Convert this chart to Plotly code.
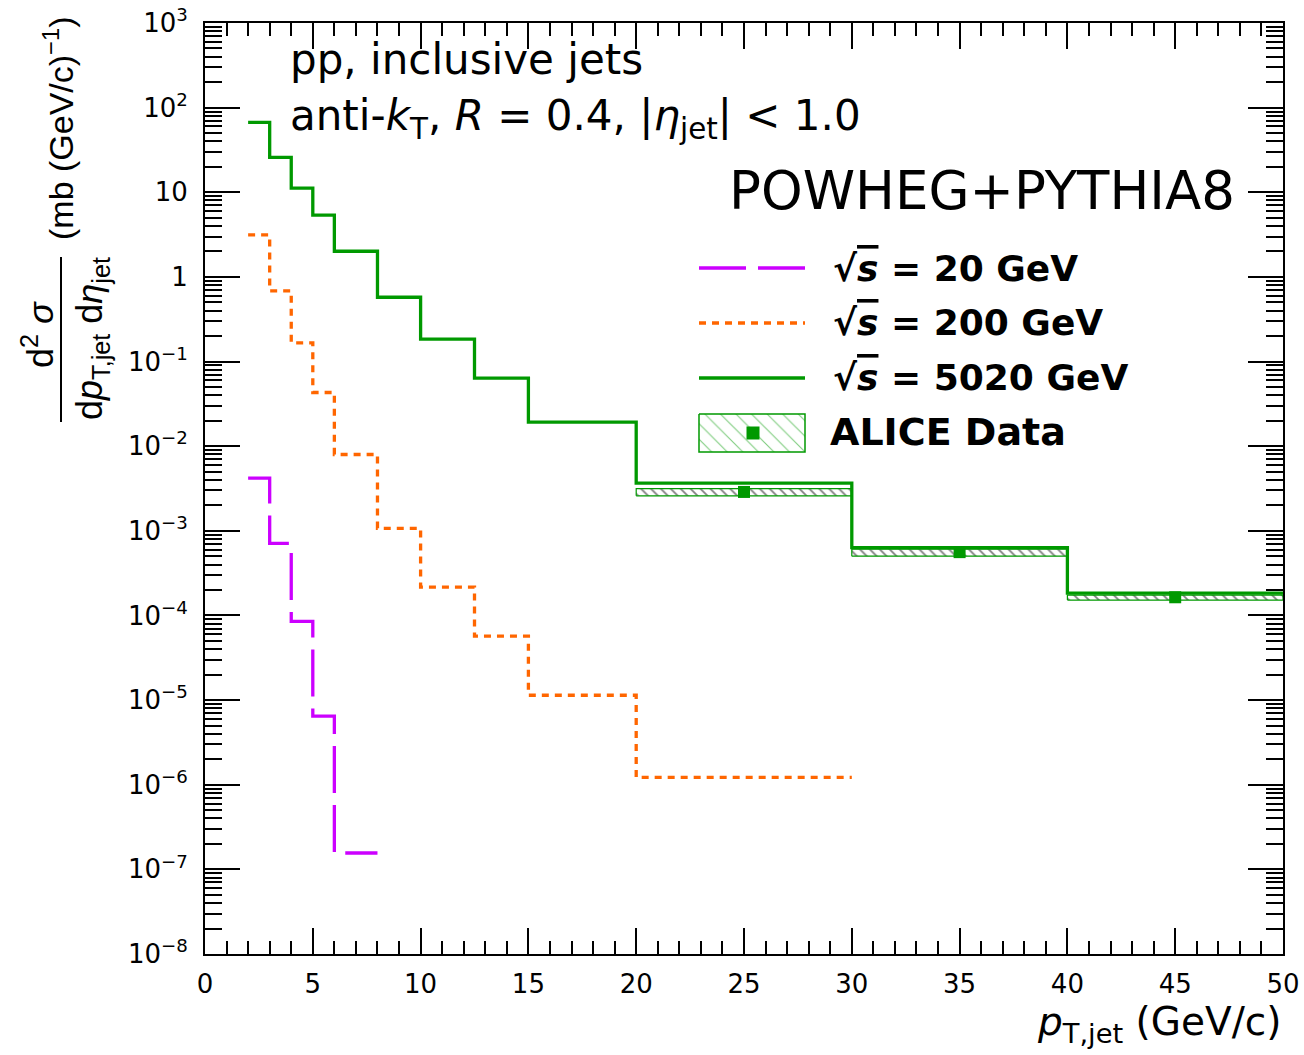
import plotly.graph_objects as go

# ---------------- data ----------------
bin_edges = [2, 3, 4, 5, 6, 8, 10, 12.5, 15, 20, 30, 40, 50]

# sqrt(s) = 5020 GeV  (POWHEG+PYTHIA8), mb (GeV/c)^-1
y_5020 = [67.1, 25.9, 11.2, 5.36, 2.01, 0.575, 0.184, 0.0636, 0.0192,
          3.66e-3, 6.33e-4, 1.84e-4]
# sqrt(s) = 200 GeV
y_200 = [3.13, 0.683, 0.166, 0.0431, 7.98e-3, 1.07e-3, 2.16e-4, 5.70e-5,
         1.14e-5, 1.22e-6]
# sqrt(s) = 20 GeV
y_20 = [4.19e-3, 7.10e-4, 8.50e-5, 6.47e-6, 1.56e-7]

# ALICE data (5.02 TeV)
alice_lo = [20, 30, 40]
alice_hi = [30, 40, 50]
alice_x = [25, 35, 45]
alice_y = [2.88e-3, 5.60e-4, 1.64e-4]
alice_sys_up = [3.16e-3, 6.07e-4, 1.74e-4]
alice_sys_dn = [2.59e-3, 5.02e-4, 1.52e-4]

y_tick_vals = [1e3, 1e2, 1e1, 1, 1e-1, 1e-2, 1e-3, 1e-4, 1e-5, 1e-6, 1e-7, 1e-8]
y_tick_text = ["10<sup>3</sup>", "10<sup>2</sup>", "10", "1",
               "10<sup>−1</sup>", "10<sup>−2</sup>", "10<sup>−3</sup>",
               "10<sup>−4</sup>", "10<sup>−5</sup>", "10<sup>−6</sup>",
               "10<sup>−7</sup>", "10<sup>−8</sup>"]

MAGENTA = "#cc00ff"
ORANGE = "#ff6600"
GREEN = "#009900"
FONT = "DejaVu Sans"
FONT_ROT = "Liberation Sans"

W, H = 1304, 1055
L, R, T, B = 205, 1283, 23, 954


def px(x):
    return (x - L) / (R - L)


def py(y):
    return (B - y) / (B - T)


def step_xy(edges, vals):
    n = len(vals)
    xs = list(edges[:n]) + [edges[n]]
    ys = list(vals) + [vals[-1]]
    return xs, ys


fig = go.Figure()

# ALICE systematic boxes
for lo, hi, dn, up in zip(alice_lo, alice_hi, alice_sys_dn, alice_sys_up):
    fig.add_trace(go.Scatter(
        x=[lo, hi, hi, lo, lo], y=[dn, dn, up, up, dn],
        mode="lines", fill="toself", fillcolor="white",
        fillpattern=dict(shape="\\", fgcolor="black", bgcolor="white",
                         size=7, solidity=0.25),
        line=dict(color=GREEN, width=1.2), showlegend=False,
        hoverinfo="skip"))

# step histograms
for vals, col, dash in [(y_20, MAGENTA, "47px,12px"),
                        (y_200, ORANGE, "7px,6px"),
                        (y_5020, GREEN, "solid")]:
    xs, ys = step_xy(bin_edges, vals)
    fig.add_trace(go.Scatter(x=xs, y=ys, mode="lines", line_shape="hv",
                             line=dict(color=col, width=3.3, dash=dash),
                             showlegend=False))

# ALICE points
fig.add_trace(go.Scatter(x=alice_x, y=alice_y, mode="markers",
                         marker=dict(symbol="square", size=12, color=GREEN),
                         showlegend=False))

# legend hatched box (in pixel overlay axes)
fig.add_trace(go.Scatter(
    x=[699, 805, 805, 699, 699], y=[414, 414, 452, 452, 414],
    xaxis="x2", yaxis="y2", mode="lines", fill="toself", fillcolor="white",
    fillpattern=dict(shape="\\", fgcolor=GREEN, bgcolor="white", size=11,
                     solidity=0.1),
    line=dict(color=GREEN, width=1.5), showlegend=False, hoverinfo="skip"))
fig.add_trace(go.Scatter(x=[753], y=[433], xaxis="x2", yaxis="y2",
                         mode="markers",
                         marker=dict(symbol="square", size=13, color=GREEN),
                         showlegend=False, hoverinfo="skip"))

shapes = []
# legend line samples
for yy, col, dash in [(268, MAGENTA, "47px,12px"), (323, ORANGE, "7px,6px"),
                      (378, GREEN, "solid")]:
    shapes.append(dict(type="line", xref="paper", yref="paper",
                       x0=px(699), x1=px(805), y0=py(yy), y1=py(yy),
                       line=dict(color=col, width=3.3, dash=dash)))
# fraction bar of y title
shapes.append(dict(type="line", xref="paper", yref="paper",
                   x0=px(61), x1=px(61), y0=py(257), y1=py(422),
                   line=dict(color="black", width=2)))

ann = []


def A(text, x, y, size, xanchor="left", yanchor="middle", angle=0,
      family=FONT):
    ann.append(dict(text=text, x=px(x), y=py(y), xref="paper", yref="paper",
                    showarrow=False, xanchor=xanchor, yanchor=yanchor,
                    textangle=angle,
                    font=dict(family=family, size=size, color="black")))


A("pp, inclusive jets", 288, 60, 42)
A("anti-<i>k</i><sub>T</sub>, <i>R</i> = 0.4, |<i>η</i><sub>jet</sub>| &lt; 1.0",
  288, 118, 42)
A("POWHEG+PYTHIA8", 1237, 190, 53, xanchor="right")

sq = "√<span style='text-decoration:overline'><i>s</i></span>"
A("<b>" + sq + " = 20 GeV</b>", 831, 268, 36)
A("<b>" + sq + " = 200 GeV</b>", 831, 322, 36)
A("<b>" + sq + " = 5020 GeV</b>", 831, 377, 36)
A("<b>ALICE Data</b>", 828, 432, 38)

# x title
A("<i>p</i><sub>T,jet</sub> (GeV/c)", 1284, 1024, 39, xanchor="right")

# y title pieces
A("(mb (GeV/c)<sup>−1</sup>)", 58, 128, 34, xanchor="center", angle=-90,
  family=FONT_ROT)
A("d<sup>2</sup> <i>σ</i>", 38, 335, 36, xanchor="center", angle=-90,
  family=FONT_ROT)
A("d<i>p</i><sub>T,jet</sub> d<i>η</i><sub>jet</sub>", 92, 339, 36,
  xanchor="center", angle=-90, family=FONT_ROT)

axis_common = dict(showline=True, linewidth=2, linecolor="black",
                   mirror="allticks", ticks="inside", tickcolor="black",
                   tickwidth=1.5, showgrid=False, zeroline=False,
                   automargin=False,
                   tickfont=dict(family=FONT, size=26, color="black"))

fig.update_layout(
    width=W, height=H,
    margin=dict(l=L, r=W - R, t=T, b=H - B, autoexpand=False),
    plot_bgcolor="white", paper_bgcolor="white",
    showlegend=False,
    xaxis=dict(range=[0, 50], tickmode="linear", tick0=0, dtick=5,
               ticklen=26, ticklabelstandoff=6,
               minor=dict(dtick=1, ticks="inside", ticklen=13,
                          tickwidth=1.5, tickcolor="black"),
               **axis_common),
    yaxis=dict(type="log", range=[-8, 3], tickmode="array",
               tickvals=y_tick_vals, ticktext=y_tick_text, ticklen=35,
               ticklabelstandoff=10,
               minor=dict(dtick="D1", ticks="inside", ticklen=17,
                          tickwidth=1.5, tickcolor="black"),
               **axis_common),
    xaxis2=dict(overlaying="x", range=[L, R], visible=False, anchor="y2"),
    yaxis2=dict(overlaying="y", range=[B, T], visible=False, anchor="x2"),
    shapes=shapes, annotations=ann,
)

fig.write_html("out.html")
